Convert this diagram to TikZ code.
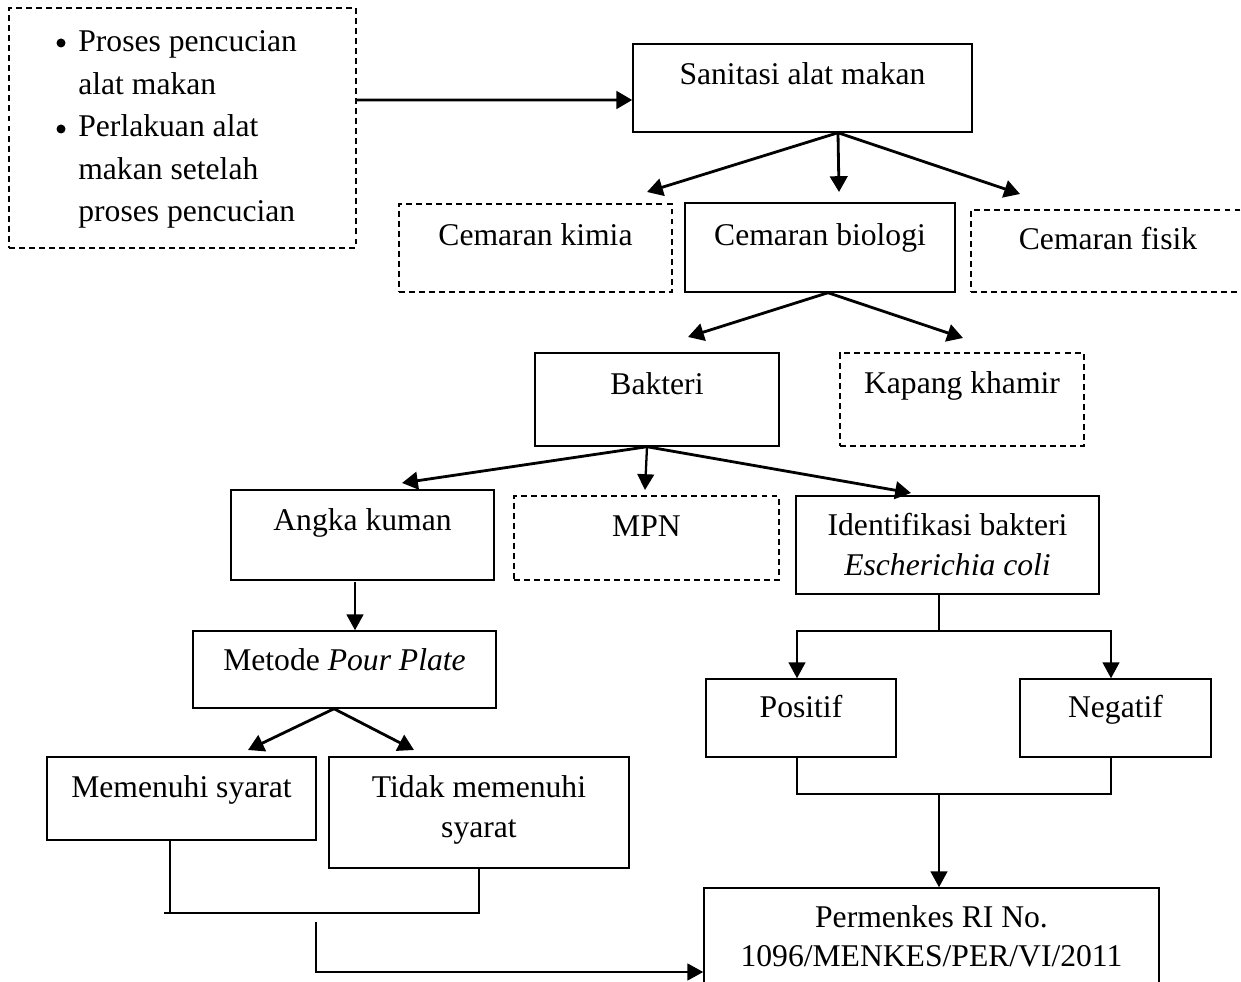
\documentclass[tikz,border=0pt]{standalone}
\usepackage{fontspec}
\setmainfont{Liberation Serif}
\usetikzlibrary{arrows.meta,fit}
\begin{document}
\begin{tikzpicture}[x=0.02cm,y=-0.02cm,
  box/.style={draw, line width=0.85pt, inner sep=0pt},
  dbox/.style={box, dash pattern=on 3.4pt off 2.3pt},
  txt/.style={inner sep=0pt, anchor=base, font=\fontsize{18}{22.5}\selectfont},
  arrS/.style={line width=1.6pt, -{Triangle[length=9pt,width=10pt]}},
  arrT/.style={line width=1.1pt, -{Triangle[length=9pt,width=9.5pt]}},
  ln/.style={line width=1.1pt},
  thinln/.style={line width=0.8pt},
  bul/.style={fill=black},
]
\useasboundingbox (0,0) rectangle (1241,982);

% boxes
\node[dbox, fit={(9,8) (356,248)}] (proc) {};
\node[box,  fit={(633,44) (972,132)}] (san) {};
\node[dbox, fit={(399,204) (672,292)}] (kim) {};
\node[box,  fit={(685,203) (955,292)}] (bio) {};
\node[dbox, fit={(971,210) (1245,292)}] (fis) {};
\node[box,  fit={(535,353) (779,446)}] (bak) {};
\node[dbox, fit={(840,353) (1084,446)}] (kap) {};
\node[box,  fit={(231,490) (494,580)}] (ang) {};
\node[dbox, fit={(514,496) (779,580)}] (mpn) {};
\node[box,  fit={(796,496) (1099,594)}] (ide) {};
\node[box,  fit={(193,631) (496,708)}] (met) {};
\node[box,  fit={(47,757) (316,840)}] (mem) {};
\node[box,  fit={(329,757) (629,868)}] (tid) {};
\node[box,  fit={(706,679) (896,757)}] (pos) {};
\node[box,  fit={(1020,679) (1211,757)}] (neg) {};
\node[box,  fit={(704,888) (1159,995)}] (per) {};

% bullets
\fill[bul] (61,43) circle (4.5);
\fill[bul] (61,129) circle (4.5);

% texts
\node[txt, anchor=base west, font=\fontsize{18}{24.2}\selectfont] (tproc) at (78,51.5)
  {\begin{tabular}[t]{@{}l@{}}
   Proses pencucian\\
   alat makan\\
   Perlakuan alat\\
   makan setelah\\
   proses pencucian
   \end{tabular}};
\node[txt] (tsan) at (802.5,85) {Sanitasi alat makan};
\node[txt] (tkim) at (535.5,246) {Cemaran kimia};
\node[txt] (tbio) at (820,246) {Cemaran biologi};
\node[txt] (tfis) at (1108,250) {Cemaran fisik};
\node[txt] (tbak) at (657,395) {Bakteri};
\node[txt] (tkap) at (962,394) {Kapang khamir};
\node[txt] (tang) at (362.5,531) {Angka kuman};
\node[txt] (tmpn) at (646.5,537) {MPN};
\node[txt] (tide) at (947.5,536)
  {\begin{tabular}[t]{@{}c@{}}Identifikasi bakteri\\ \textit{Escherichia coli}\end{tabular}};
\node[txt] (tmet) at (344.5,671) {Metode \textit{Pour Plate}};
\node[txt] (tmem) at (181.5,798) {Memenuhi syarat};
\node[txt] (ttid) at (479,798)
  {\begin{tabular}[t]{@{}c@{}}Tidak memenuhi\\ syarat\end{tabular}};
\node[txt] (tpos) at (801,718) {Positif};
\node[txt] (tneg) at (1115.5,718) {Negatif};
\node[txt] (tper) at (931.5,927)
  {\begin{tabular}[t]{@{}c@{}}Permenkes RI No.\\ 1096/MENKES/PER/VI/2011\end{tabular}};

% helper coordinates
\coordinate (k1) at (647,192);
\coordinate (b1) at (839,192);
\coordinate (f1) at (1020,194);
\coordinate (ba1) at (688,337);
\coordinate (ka1) at (963,338);
\coordinate (an1) at (402,483);
\coordinate (mp1) at (645,490);
\coordinate (id1) at (911,493);
\coordinate (a1) at (355,582);
\coordinate (me1) at (248,750);
\coordinate (ti1) at (414,750);
\coordinate (m0) at (164,913);
\coordinate (m1) at (170,913);
\coordinate (q0) at (316,922);
\coordinate (q1) at (316,972);
\coordinate (i1) at (939,631);
\coordinate (p1) at (797,631);
\coordinate (n1) at (1111,631);
\coordinate (j1) at (797,794);
\coordinate (j2) at (1111,794);
\coordinate (j3) at (939,794);

% connectors
\draw[arrS, line width=1.6pt] ([yshift=0.56cm]proc.east) -- ([yshift=-0.24cm]san.west);
\draw[arrS] ([xshift=0.71cm]san.south) -- (k1);
\draw[arrS] ([xshift=0.71cm]san.south) -- (b1);
\draw[arrS] ([xshift=0.71cm]san.south) -- (f1);
\draw[arrS] ([xshift=0.16cm]bio.south) -- (ba1);
\draw[arrS] ([xshift=0.16cm]bio.south) -- (ka1);
\draw[arrS] ([xshift=-0.2cm]bak.south) -- (an1);
\draw[arrT, line width=1.3pt] ([xshift=-0.2cm]bak.south) -- (mp1);
\draw[arrS] ([xshift=-0.2cm]bak.south) -- (id1);
\draw[arrT, line width=1.3pt] (a1) -- (a1 |- met.north);
\draw[arrS] ([xshift=-0.21cm]met.south) -- (me1);
\draw[arrS] ([xshift=-0.21cm]met.south) -- (ti1);
\draw[ln] (m1 |- mem.south) -- (m1);
\draw[ln] (m0) -- (m0 -| tid.south) -- (tid.south);
\draw[arrT, line width=1.3pt] (q0) -- (q1) -- (q1 -| per.west);
\draw[thinln] (i1 |- ide.south) -- (i1);
\draw[arrT] (i1) -| (p1 |- pos.north);
\draw[arrT] (i1) -| (n1 |- neg.north);
\draw[ln] (j1 |- pos.south) -- (j1) -- (j2) -- (j2 |- neg.south);
\draw[arrT] (j3) -- (j3 |- per.north);
\end{tikzpicture}
\end{document}
